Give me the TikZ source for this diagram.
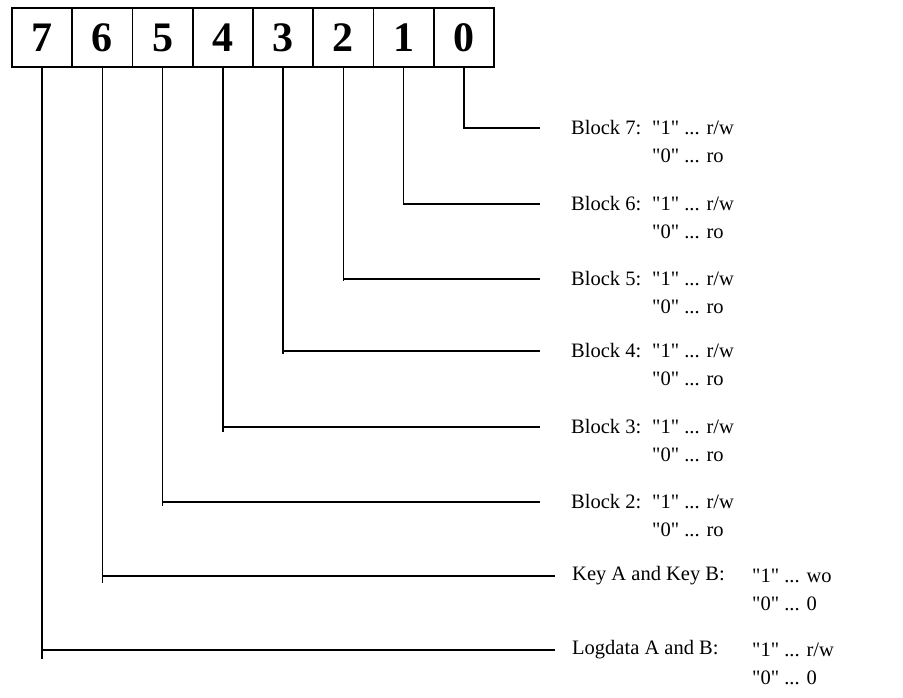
\documentclass[tikz,border=0pt]{standalone}
\usepackage{fontspec}
\setmainfont{Liberation Serif}[Ligatures=TeXOff]
\usetikzlibrary{positioning,calc}

\begin{document}
\begin{tikzpicture}[
    x=1pt, y=-1pt,
    bitbox/.style={rectangle, draw, line width=1.8pt, minimum width=60.25pt, minimum height=59pt, inner sep=0pt, font=\fontsize{42}{44}\selectfont\bfseries},
    txt/.style={anchor=west, inner sep=0pt, font=\fontsize{20.5}{22}\selectfont},
    wire/.style={line width=1.4pt}
]
    \useasboundingbox (0,0) rectangle (903,697);

    % Register bits
    \foreach \b in {0,...,7}
        \node[bitbox] (b\b) at ({42.1+60.25*(7-\b)}, 37.5) {\b};

    % Block bits
    \node[txt] (n0) at (571,128) {Block 7:};
    \node[txt] (v0) at (652,128) {"1" ... r/w};
    \node[txt] (w0) at (652,156) {"0" ... ro};

    \node[txt] (n1) at (571,204) {Block 6:};
    \node[txt] (v1) at (652,204) {"1" ... r/w};
    \node[txt] (w1) at (652,232) {"0" ... ro};

    \node[txt] (n2) at (571,279) {Block 5:};
    \node[txt] (v2) at (652,279) {"1" ... r/w};
    \node[txt] (w2) at (652,307) {"0" ... ro};

    \node[txt] (n3) at (571,351) {Block 4:};
    \node[txt] (v3) at (652,351) {"1" ... r/w};
    \node[txt] (w3) at (652,379) {"0" ... ro};

    \node[txt] (n4) at (571,427) {Block 3:};
    \node[txt] (v4) at (652,427) {"1" ... r/w};
    \node[txt] (w4) at (652,455) {"0" ... ro};

    \node[txt] (n5) at (571,502) {Block 2:};
    \node[txt] (v5) at (652,502) {"1" ... r/w};
    \node[txt] (w5) at (652,530) {"0" ... ro};

    % Keys and log data
    \node[txt] (n6) at (572,576) {Key A and Key B:};
    \node[txt] (v6) at (752,576) {"1" ... wo};
    \node[txt] (w6) at (752,604) {"0" ... 0};

    \node[txt] (n7) at (572,650) {Logdata A and B:};
    \node[txt] (v7) at (752,650) {"1" ... r/w};
    \node[txt] (w7) at (752,678) {"0" ... 0};

    % Wires from bits to labels
    \foreach \b/\gap/\tick in {0/31/1, 1/31/1, 2/31/2, 3/31/3, 4/31/5, 5/31/4, 6/17/7, 7/17/9} {
        \coordinate (e\b) at ($(n\b.west)+(-\gap,0)$);
        \draw[wire] (b\b.south) -- ($(b\b.south |- e\b)+(0,\tick)$);
        \draw[wire] (b\b.south |- e\b) -- (e\b);
    }
\end{tikzpicture}
\end{document}
